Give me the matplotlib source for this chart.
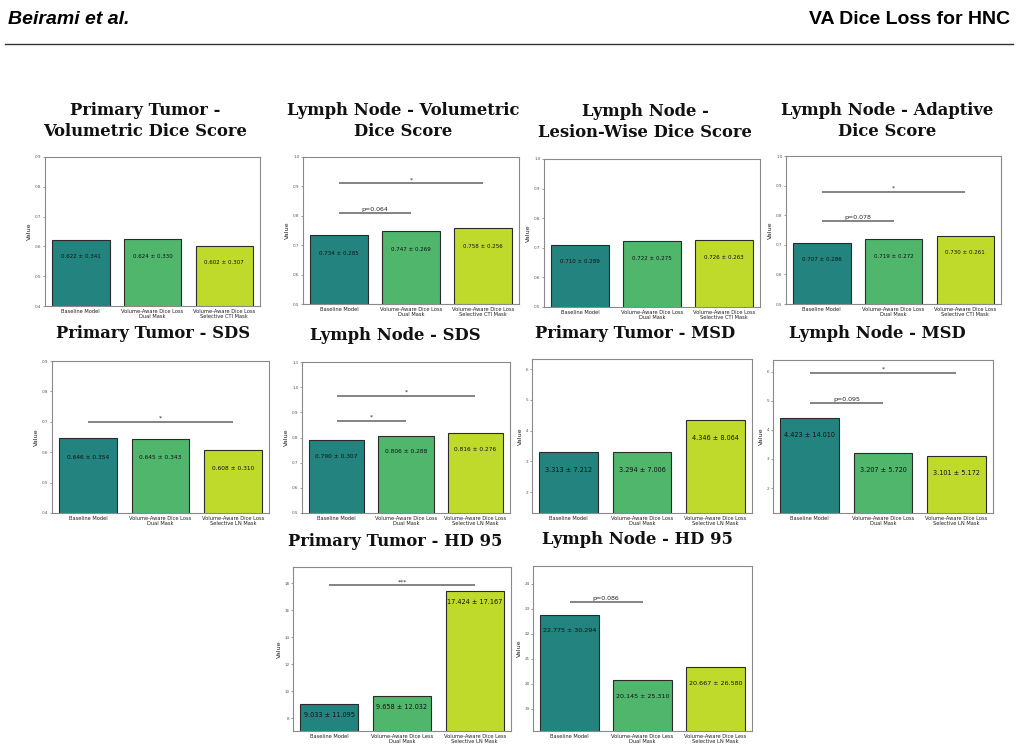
import matplotlib
matplotlib.use("Agg")
import matplotlib.pyplot as plt
from matplotlib.lines import Line2D

W, H = 1018, 754

# ---------------- data ----------------
titles = [
    "Primary Tumor -\nVolumetric Dice Score",
    "Lymph Node - Volumetric\nDice Score",
    "Lymph Node -\nLesion-Wise Dice Score",
    "Lymph Node - Adaptive\nDice Score",
    "Primary Tumor - SDS",
    "Lymph Node - SDS",
    "Primary Tumor - MSD",
    "Lymph Node - MSD",
    "Primary Tumor - HD 95",
    "Lymph Node - HD 95",
]

labels_cti = ["Baseline Model", "Volume-Aware Dice Loss\nDual Mask",
              "Volume-Aware Dice Loss\nSelective CTI Mask"]
labels_ln = ["Baseline Model", "Volume-Aware Dice Loss\nDual Mask",
             "Volume-Aware Dice Loss\nSelective LN Mask"]
labels_hd = ["Baseline Model", "Volume-Aware Dice Less\nDual Mask",
             "Volume-Aware Dice Less\nSelective LN Mask"]
xlabels = [labels_cti, labels_cti, labels_cti, labels_cti,
           labels_ln, labels_ln, labels_ln, labels_ln, labels_hd, labels_hd]

means = [
    [0.622, 0.624, 0.602],
    [0.734, 0.747, 0.758],
    [0.710, 0.722, 0.726],
    [0.707, 0.719, 0.730],
    [0.646, 0.645, 0.608],
    [0.790, 0.806, 0.816],
    [3.313, 3.294, 4.346],
    [4.423, 3.207, 3.101],
    [9.033, 9.658, 17.424],
    [22.775, 20.145, 20.667],
]
stds = [
    [0.341, 0.330, 0.307],
    [0.285, 0.269, 0.256],
    [0.289, 0.275, 0.263],
    [0.286, 0.272, 0.261],
    [0.354, 0.343, 0.310],
    [0.307, 0.288, 0.276],
    [7.212, 7.006, 8.064],
    [14.010, 5.720, 5.172],
    [11.095, 12.032, 17.167],
    [30.294, 25.310, 26.580],
]

# significance annotations: (bar i, bar j, height, label)
signif = [
    [],
    [(0, 1, 0.81, "p=0.064"), (0, 2, 0.91, "*")],
    [],
    [(0, 1, 0.78, "p=0.078"), (0, 2, 0.88, "*")],
    [(0, 2, 0.70, "*")],
    [(0, 1, 0.866, "*"), (0, 2, 0.965, "*")],
    [],
    [(0, 1, 4.93, "p=0.095"), (0, 2, 5.97, "*")],
    [(0, 2, 17.85, "***")],
    [(0, 1, 23.28, "p=0.086")],
]

ylims = [(0.4, 0.9), (0.5, 1.0), (0.5, 1.0), (0.5, 1.0), (0.4, 0.9),
         (0.5, 1.1), (1.32, 6.33), (1.14, 6.41), (7.04, 19.2), (18.12, 24.72)]
yticks = [
    [0.4, 0.5, 0.6, 0.7, 0.8, 0.9],
    [0.5, 0.6, 0.7, 0.8, 0.9, 1.0],
    [0.5, 0.6, 0.7, 0.8, 0.9, 1.0],
    [0.5, 0.6, 0.7, 0.8, 0.9, 1.0],
    [0.4, 0.5, 0.6, 0.7, 0.8, 0.9],
    [0.5, 0.6, 0.7, 0.8, 0.9, 1.0, 1.1],
    [2, 3, 4, 5, 6],
    [2, 3, 4, 5, 6],
    [8, 10, 12, 14, 16, 18],
    [19, 20, 21, 22, 23, 24],
]

# ---------------- layout / style ----------------
# axes boxes in pixels: left, top, right, bottom
boxes = [
    (45, 157, 260, 306), (303, 157, 519, 304), (544, 159, 760, 307), (786, 156, 1001, 304),
    (52, 361, 269, 513), (302, 362, 510, 513), (532, 359, 752, 513), (773, 360, 993, 513),
    (293, 567, 511, 731), (533, 566, 752, 731),
]
title_pos = [
    (145, 121), (403, 121), (645, 122), (887, 121),
    (153, 333), (395, 335), (635, 333), (877, 333),
    (395, 541), (637, 540),
]
label_off = [17, 18, 17, 17, 19, 16, 18, 17, 11, 16]
label_fs = [4.0, 4.0, 4.0, 4.0, 4.2, 4.2, 4.7, 4.7, 4.7, 4.6]
yfmt = ["%.1f"] * 6 + ["%d"] * 4

colors = ["#23837e", "#4fb66c", "#c0da2c"]
spine_col = "#8a8a8a"

fig = plt.figure(figsize=(W / 100, H / 100), dpi=100)

# header
fig.text(8 / W, 1 - 19 / H, "Beirami et al.", fontsize=14, fontweight="bold",
         fontstyle="italic", family="Liberation Sans", va="center", ha="left")
fig.text(1010 / W, 1 - 19 / H, "VA Dice Loss for HNC", fontsize=14, fontweight="bold",
         family="Liberation Sans", va="center", ha="right")
fig.add_artist(Line2D([5 / W, 1013 / W], [1 - 44 / H, 1 - 44 / H], color="#333333", lw=1.0))

for k in range(10):
    l, t, r, b = boxes[k]
    ax = fig.add_axes([l / W, 1 - b / H, (r - l) / W, (b - t) / H])
    x = range(3)
    ax.bar(x, means[k], width=0.8, color=colors, edgecolor="#2a2a2a", linewidth=0.8)
    ax.set_xlim(-0.5, 2.5)
    ax.set_ylim(*ylims[k])
    ax.set_yticks(yticks[k])
    ax.set_yticklabels([yfmt[k] % v for v in yticks[k]])
    ax.set_xticks(list(x))
    ax.set_xticklabels(xlabels[k], fontsize=3.7, color="#222222", linespacing=1.1)
    ax.tick_params(axis="y", labelsize=3.0, length=1.5, width=0.4, pad=1, colors="#555555")
    ax.tick_params(axis="x", length=0, pad=2)
    ax.set_ylabel("Value", fontsize=4.6, labelpad=2, color="#222222")
    for s in ax.spines.values():
        s.set_color(spine_col)
        s.set_linewidth(0.8)
    for i in x:
        ax.annotate(f"{means[k][i]:.3f} \u00b1 {stds[k][i]:.3f}", (i, means[k][i]),
                    xytext=(0, -label_off[k]), textcoords="offset pixels",
                    ha="center", va="center", fontsize=label_fs[k], color="#111111")
    for (i, j, hgt, txt) in signif[k]:
        ax.plot([i, j], [hgt, hgt], color="#6e6e6e", lw=1.2, solid_capstyle="butt")
        ax.annotate(txt, ((i + j) / 2, hgt), xytext=(0, 1), textcoords="offset pixels",
                    ha="center", va="bottom", fontsize=4.5, color="#222222")
    tx, ty = title_pos[k]
    fig.text(tx / W, 1 - ty / H, titles[k], ha="center", va="center",
             family="DejaVu Serif", fontweight="bold", fontsize=11.8,
             linespacing=1.25, color="#111111")

fig.savefig("out.png", dpi=100)
